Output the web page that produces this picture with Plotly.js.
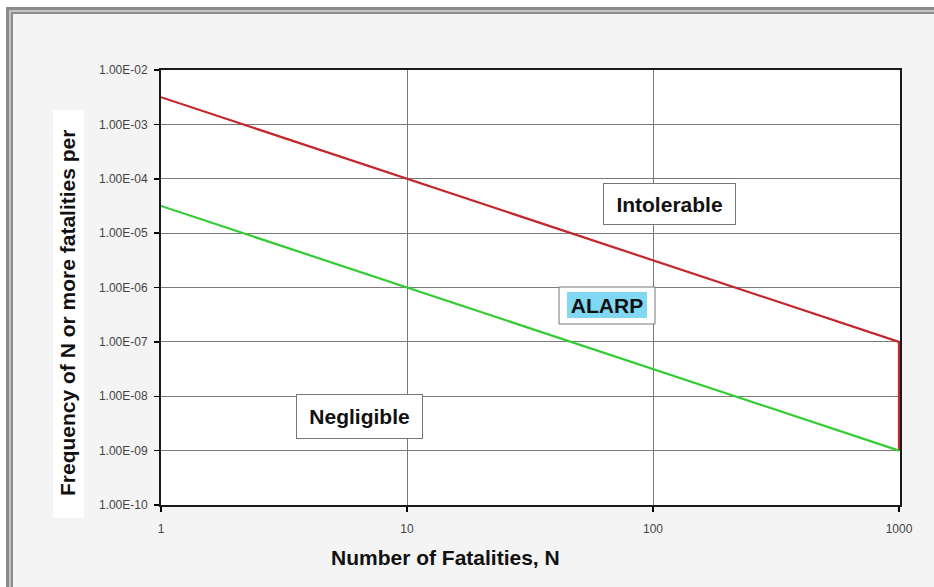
<!DOCTYPE html>
<html>
<head>
<meta charset="utf-8">
<script src="https://cdn.plot.ly/plotly-3.0.1.min.js"></script>
<style>html,body{margin:0;padding:0;background:#fff;}#chart{width:934px;height:587px;}</style>
</head>
<body>
<div id="chart"></div>
<script>
// ---- data ----
const intolerableN = [1, 1000, 1000];
const intolerableF = [3.16e-3, 1e-7, 1e-9];
const negligibleN = [1, 1000];
const negligibleF = [3.16e-5, 1e-9];
const yTickVals = [1e-2, 1e-3, 1e-4, 1e-5, 1e-6, 1e-7, 1e-8, 1e-9, 1e-10];
const yTickText = ["1.00E-02", "1.00E-03", "1.00E-04", "1.00E-05", "1.00E-06", "1.00E-07", "1.00E-08", "1.00E-09", "1.00E-10"];
const xTickVals = [1, 10, 100, 1000];
const xTickText = ["1", "10", "100", "1000"];
const regionLabels = ["Intolerable", "ALARP", "Negligible"];
const xTitle = "Number of Fatalities, N";
const yTitle = "Frequency of N or more fatalities per";

// ---- layout helpers (pixel -> paper) ----
const L = 161, R = 900, T = 70, B = 505;
const W = 934, H = 587;
const px = x => (x - L) / (R - L);
const py = y => (B - y) / (B - T);

const traces = [
  {x: intolerableN, y: intolerableF, mode: 'lines', line: {color: '#c4262b', width: 2.2}, hoverinfo: 'x+y', cliponaxis: false},
  {x: negligibleN, y: negligibleF, mode: 'lines', line: {color: '#33cc33', width: 2.2}, hoverinfo: 'x+y', cliponaxis: false}
];

const shapes = [
  // white strips outside the frame
  {type: 'rect', xref: 'paper', yref: 'paper', x0: px(-5), x1: px(6), y0: py(600), y1: py(-5), fillcolor: '#ffffff', line: {width: 0}, layer: 'above'},
  {type: 'rect', xref: 'paper', yref: 'paper', x0: px(-5), x1: px(950), y0: py(7), y1: py(-5), fillcolor: '#ffffff', line: {width: 0}, layer: 'above'},
  // frame bands
  {type: 'rect', xref: 'paper', yref: 'paper', x0: px(6), x1: px(13), y0: py(600), y1: py(7), fillcolor: '#8c8c8c', line: {width: 0}, layer: 'above'},
  {type: 'rect', xref: 'paper', yref: 'paper', x0: px(6), x1: px(950), y0: py(14), y1: py(7), fillcolor: '#8c8c8c', line: {width: 0}, layer: 'above'},
  {type: 'rect', xref: 'paper', yref: 'paper', x0: px(9), x1: px(11), y0: py(600), y1: py(10), fillcolor: '#c4c4c4', line: {width: 0}, layer: 'above'},
  {type: 'rect', xref: 'paper', yref: 'paper', x0: px(9), x1: px(950), y0: py(12), y1: py(10), fillcolor: '#c4c4c4', line: {width: 0}, layer: 'above'},
  // white box behind y-axis title
  {type: 'rect', xref: 'paper', yref: 'paper', x0: px(53), x1: px(84), y0: py(518), y1: py(110), fillcolor: '#ffffff', line: {width: 0}, layer: 'above'},
  // ALARP outer box
  {type: 'rect', xref: 'paper', yref: 'paper', x0: px(559), x1: px(655), y0: py(324), y1: py(287), fillcolor: '#ffffff', line: {color: '#777777', width: 1}, layer: 'above'}
];

const boxFont = {family: 'Liberation Sans, Arial, sans-serif', size: 21, color: '#111111', weight: 'bold'};

const annotations = [
  {xref: 'paper', yref: 'paper', x: px(669.5), y: py(204), text: '<b>' + regionLabels[0] + '</b>', showarrow: false,
   font: boxFont, bgcolor: '#ffffff', bordercolor: '#777777', borderwidth: 1, borderpad: 0, width: 131, height: 40, xanchor: 'center', yanchor: 'middle'},
  {xref: 'paper', yref: 'paper', x: px(607), y: py(305), text: '<b>' + regionLabels[1] + '</b>', showarrow: false,
   font: boxFont, bgcolor: '#80d8f2', borderwidth: 0, borderpad: 0, width: 80, height: 26, xanchor: 'center', yanchor: 'middle'},
  {xref: 'paper', yref: 'paper', x: px(359.5), y: py(416.5), text: '<b>' + regionLabels[2] + '</b>', showarrow: false,
   font: boxFont, bgcolor: '#ffffff', bordercolor: '#777777', borderwidth: 1, borderpad: 0, width: 125, height: 43, xanchor: 'center', yanchor: 'middle'},
  {xref: 'paper', yref: 'paper', x: px(445), y: py(557), text: '<b>' + xTitle + '</b>', showarrow: false,
   font: boxFont, xanchor: 'center', yanchor: 'middle'},
  {xref: 'paper', yref: 'paper', x: px(67), y: py(313), text: '<b>' + yTitle + '</b>', showarrow: false, textangle: -90,
   font: boxFont, xanchor: 'center', yanchor: 'middle'}
];

const tickFont = {family: 'Liberation Sans, Arial, sans-serif', size: 12, color: '#444444'};

const layout = {
  width: W, height: H,
  margin: {l: L, r: W - R, t: T, b: H - B, pad: 0},
  paper_bgcolor: '#f4f4f4',
  plot_bgcolor: '#ffffff',
  showlegend: false,
  xaxis: {
    type: 'log', range: [0, 3.004], tickvals: xTickVals, ticktext: xTickText,
    showgrid: true, gridcolor: '#7a7a7a', gridwidth: 1,
    showline: true, linecolor: '#1a1a1a', linewidth: 2, mirror: true,
    ticks: 'outside', ticklen: 5, tickcolor: '#000000', tickwidth: 1.5,
    tickfont: tickFont, ticklabelstandoff: 7, zeroline: false, fixedrange: true,
    layer: 'below traces'
  },
  yaxis: {
    type: 'log', range: [-10, -2], tickvals: yTickVals, ticktext: yTickText,
    showgrid: true, gridcolor: '#7a7a7a', gridwidth: 1,
    showline: true, linecolor: '#1a1a1a', linewidth: 2, mirror: true,
    ticks: 'outside', ticklen: 5, tickcolor: '#000000', tickwidth: 1.5,
    tickfont: tickFont, ticklabelstandoff: 4, zeroline: false, fixedrange: true,
    layer: 'below traces'
  },
  shapes: shapes,
  annotations: annotations
};

Plotly.newPlot('chart', traces, layout, {displayModeBar: false, staticPlot: true});
</script>
</body>
</html>
